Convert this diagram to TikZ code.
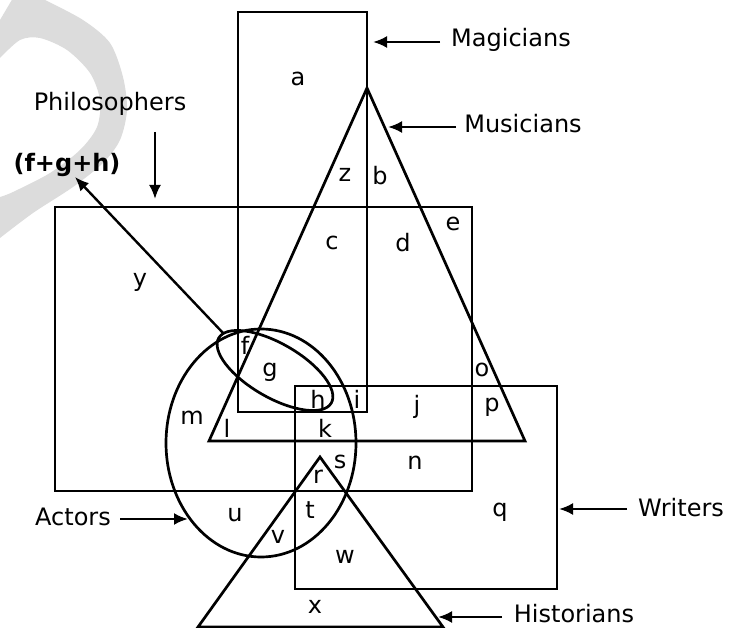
\documentclass[tikz,border=0pt]{standalone}
\usepackage{fontspec}
\setmainfont{DejaVu Sans}
\usetikzlibrary{arrows.meta}
\definecolor{wm}{RGB}{220,220,220}
\begin{document}
\begin{tikzpicture}[x=1pt,y=-1pt,
  shapeline/.style={line width=2.7pt, line join=miter},
  lbl/.style={font=\fontsize{24}{28}\selectfont, inner sep=0pt, anchor=center},
  boldlbl/.style={font=\fontsize{24}{28}\selectfont\bfseries, inner sep=0pt, anchor=center},
  reg/.style={font=\fontsize{24}{28}\selectfont, inner sep=0pt, anchor=center},
  ptr/.style={line width=2.4pt, -{Latex[length=14pt,width=12pt]}}
]
\useasboundingbox (0,0) rectangle (729,628);
% watermark
\begin{scope}
  \clip (0,0) rectangle (729,628);
  \fill[wm] (13,-2) -- (44,-2)
     -- plot[smooth] coordinates {(45,0) (83,20) (110,43) (123,77) (127,110) (120,140) (103,163) (73,187) (33,213) (0,238)}
     -- (-8,244) -- (-8,198)
     -- plot[smooth] coordinates {(0,197) (13,192) (50,173) (80,150) (97,127) (100,100) (90,73) (67,50) (40,38) (20,40) (0,58)}
     -- (-8,62) -- (-8,20) -- (0,20) -- cycle;
\end{scope}
% shapes
\coordinate (mag1) at (238,12);  \coordinate (mag2) at (367,412);
\coordinate (phi1) at (55,207);  \coordinate (phi2) at (472,491);
\coordinate (wri1) at (295,386); \coordinate (wri2) at (557,589);
\coordinate (musA) at (367,88);  \coordinate (musB) at (209,441); \coordinate (musC) at (525,441);
\coordinate (hisA) at (320,457); \coordinate (hisB) at (198,627); \coordinate (hisC) at (443,627);
\coordinate (actc) at (261,443);
\coordinate (fghc) at (275,370.5);
\draw[shapeline] (mag1) rectangle (mag2);
\draw[shapeline] (phi1) rectangle (phi2);
\draw[shapeline] (wri1) rectangle (wri2);
\draw[shapeline] (musA) -- (musB) -- (musC) -- cycle;
\draw[shapeline] (hisA) -- (hisB) -- (hisC) -- cycle;
\draw[shapeline] (actc) ellipse [x radius=95, y radius=114];
\draw[shapeline, rotate around={-30:(fghc)}] (fghc) ellipse [x radius=65, y radius=27];
% outer labels
\node[lbl] (magL) at (511,40) {Magicians};
\node[lbl] (musL) at (523,124) {Musicians};
\node[lbl] (phiL) at (110,104) {Philosophers};
\node[boldlbl] (fghL) at (67,165) {(f+g+h)};
\node[lbl] (wriL) at (681,508) {Writers};
\node[lbl] (hisL) at (574,614) {Historians};
\node[lbl] (actL) at (73,517) {Actors};
% arrow tips and tails
\coordinate (magT) at (373,42);  \coordinate (magS) at (440,42);
\coordinate (musT) at (388,127); \coordinate (musS) at (456,127);
\coordinate (phiT) at (155,199); \coordinate (phiS) at (155,132);
\coordinate (fghT) at (75,177);  \coordinate (fghS) at (224,334);
\coordinate (wriT) at (559,509); \coordinate (wriS) at (627,509);
\coordinate (hisT) at (438,617); \coordinate (hisS) at (502,617);
\coordinate (actT) at (188,519); \coordinate (actS) at (120,519);
\draw[ptr] (magS) -- (magT);
\draw[ptr] (musS) -- (musT);
\draw[ptr] (phiS) -- (phiT);
\draw[ptr] (fghS) -- (fghT);
\draw[ptr] (wriS) -- (wriT);
\draw[ptr] (hisS) -- (hisT);
\draw[ptr] (actS) -- (actT);
% region letters
\node[reg] (ra) at (298,79) {a};
\node[reg] (rz) at (345,175) {z};
\node[reg] (rb) at (380,176) {b};
\node[reg] (rc) at (332,243) {c};
\node[reg] (rd) at (403,243) {d};
\node[reg] (re) at (453,224) {e};
\node[reg] (ry) at (140,282) {y};
\node[reg] (rf) at (245,345) {f};
\node[reg] (rg) at (270,372) {g};
\node[reg] (rh) at (318,399) {h};
\node[reg] (ri) at (357,399) {i};
\node[reg] (rj) at (417,407) {j};
\node[reg] (rk) at (325,428) {k};
\node[reg] (rl) at (227,428) {l};
\node[reg] (rm) at (192,418) {m};
\node[reg] (ro) at (482,370) {o};
\node[reg] (rp) at (492,407) {p};
\node[reg] (rq) at (500,512) {q};
\node[reg] (rn) at (415,463) {n};
\node[reg] (rs) at (340,462) {s};
\node[reg] (rr) at (318,477) {r};
\node[reg] (rt) at (310,510) {t};
\node[reg] (ru) at (235,515) {u};
\node[reg] (rv) at (278,537) {v};
\node[reg] (rw) at (345,557) {w};
\node[reg] (rx) at (315,607) {x};
\end{tikzpicture}
\end{document}
